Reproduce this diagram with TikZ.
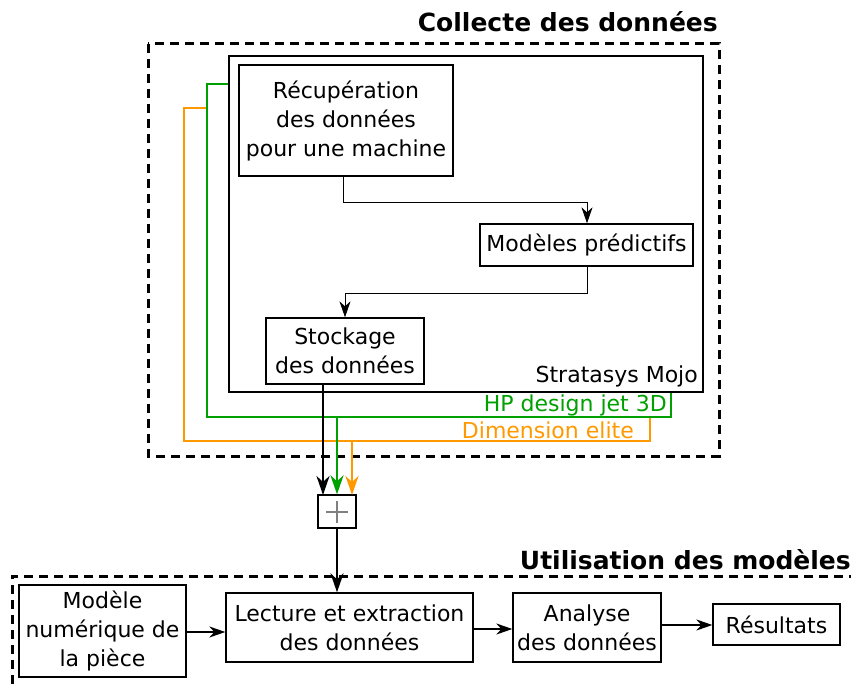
\documentclass[tikz,border=0pt]{standalone}
\usepackage{fontspec}
\setmainfont{DejaVu Sans}
\usetikzlibrary{arrows.meta,calc}
\definecolor{hpgreen}{RGB}{0,160,0}
\definecolor{dimorange}{RGB}{255,153,0}
\begin{document}
\begin{tikzpicture}[x=1pt,y=-1pt,
  box/.style={draw,line width=1.3pt,fill=white,align=center,inner sep=0pt,font=\fontsize{22}{29}\selectfont},
  frame/.style={draw,line width=1.3pt,fill=white,inner sep=0pt},
  grp/.style={draw,line width=3pt,dash pattern=on 9pt off 6pt},
  arr/.style={-{Stealth[length=16pt,width=11pt,inset=5pt]},line width=1pt},
  varr/.style={-{Stealth[length=19pt,width=13pt,inset=6pt]},line width=2.4pt},
  title/.style={font=\fontsize{25}{28}\selectfont\bfseries,anchor=east,inner sep=0pt},
  lbl/.style={font=\fontsize{22}{26}\selectfont,anchor=east,inner sep=0pt}]
\useasboundingbox (0,0) rectangle (851,684);
% group 1
\draw[grp] (148,44) rectangle (719,456);
\node[title] (t1) at (718,22) {Collecte des données};
% stacked machine boxes
\node[frame,draw=dimorange,line width=1.3pt,minimum width=466pt,minimum height=333pt] (orb) at (417,274.5) {};
\node[frame,draw=hpgreen,line width=1.3pt,minimum width=464pt,minimum height=333pt] (grb) at (439,250.5) {};
\node[frame,minimum width=474pt,minimum height=336pt] (mojo) at (466,224) {};
\node[lbl,text=dimorange] (lor) at (634,430) {Dimension elite};
\node[lbl,text=hpgreen] (lgr) at (667,405) {HP design jet 3D};
\node[lbl] (lmo) at (698,376) {Stratasys Mojo};
% inner boxes
\node[box,minimum width=214pt,minimum height=111pt] (recup) at (346,120.5) {Récupération\\des données\\pour une machine};
\node[box,minimum width=213pt,minimum height=42pt] (pred) at (586.5,245) {Modèles prédictifs};
\node[box,minimum width=158pt,minimum height=66pt] (stock) at (345,351) {Stockage\\des données};
\draw[arr] (343,176) |- (587,203) -- (pred.north -| 587,0);
\draw[arr] (pred.south -| 587,0) |- (345,294) -- (stock.north);
% plus box
\node[frame,minimum width=38pt,minimum height=33pt] (plus) at (337,511.5) {};
\draw[gray,line width=2pt] ($(plus.center)+(-11,0)$) -- ($(plus.center)+(11,0)$) ($(plus.center)+(0,-11)$) -- ($(plus.center)+(0,11)$);
\coordinate (pb) at (323,495);
\coordinate (po) at (352,495);
\draw[varr] (stock.south -| pb) -- (pb);
\draw[varr,hpgreen] (grb.south -| plus.north) -- (plus.north);
\draw[varr,dimorange] (orb.south -| po) -- (po);
% group 2
\draw[grp] (12,684) |- (855,576);
\node[title] (t2) at (851,560) {Utilisation des modèles};
\node[box,minimum width=167pt,minimum height=92pt] (num) at (102.5,631) {Modèle\\numérique de\\la pièce};
\node[box,minimum width=247pt,minimum height=69pt] (lect) at (349.5,627.5) {Lecture et extraction\\des données};
\node[box,minimum width=148pt,minimum height=69pt] (ana) at (587,627.5) {Analyse\\des données};
\node[box,minimum width=127pt,minimum height=41pt] (res) at (776.5,624.5) {Résultats};
\draw[varr] (plus.south) -- (lect.north -| plus.south);
\draw[arr,line width=1.6pt] (num.east |- 0,632) -- (lect.west |- 0,632);
\draw[arr,line width=1.6pt] (lect.east |- 0,629) -- (ana.west |- 0,629);
\draw[arr,line width=1.6pt] (ana.east |- 0,625) -- (res.west |- 0,625);
\end{tikzpicture}
\end{document}
